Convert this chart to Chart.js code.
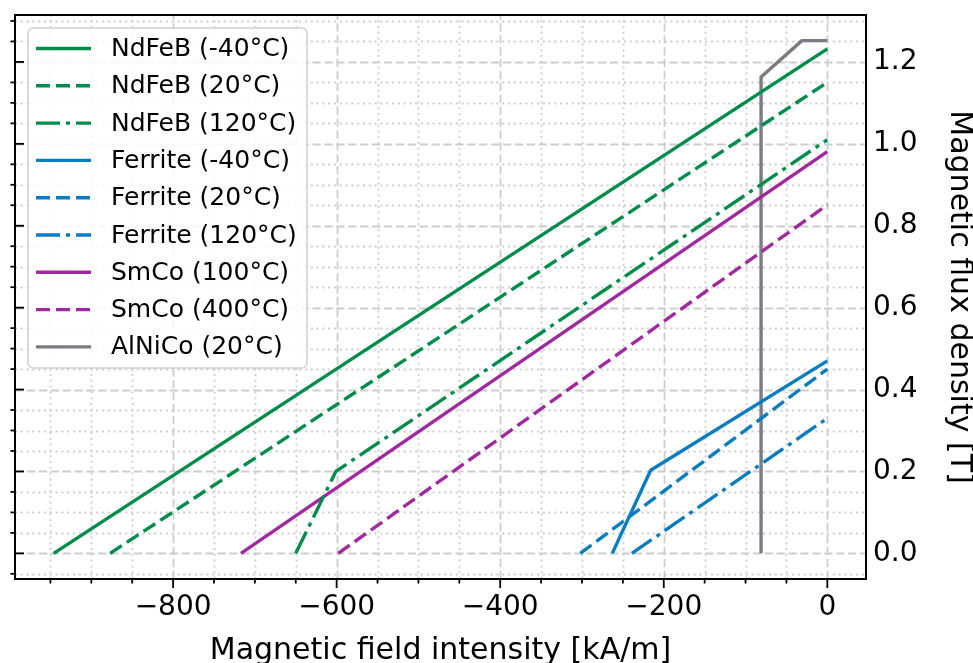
<!DOCTYPE html>
<html>
<head>
<meta charset="utf-8">
<script src="https://cdn.jsdelivr.net/npm/chart.js@4.4.1/dist/chart.umd.min.js"></script>
<style>
  html, body { margin: 0; padding: 0; background: #ffffff; }
  #wrap { width: 973px; height: 663px; position: relative; }
  canvas { display: block; }
</style>
</head>
<body>
<div id="wrap"><canvas id="c" width="973" height="663"></canvas></div>
<script>
// ---------------- data ----------------
const seriesLabels = [
  'NdFeB (-40°C)', 'NdFeB (20°C)', 'NdFeB (120°C)',
  'Ferrite (-40°C)', 'Ferrite (20°C)', 'Ferrite (120°C)',
  'SmCo (100°C)', 'SmCo (400°C)', 'AlNiCo (20°C)'
];
// H values in kA/m, B values in T
const ndfebM40H = [-946, 0];
const ndfebM40B = [0, 1.232];
const ndfeb20H = [-877, 0];
const ndfeb20B = [0, 1.15];
const ndfeb120H = [-650, -601, 0];
const ndfeb120B = [0, 0.2, 1.01];
const ferriteM40H = [-263, -216, 0];
const ferriteM40B = [0, 0.203, 0.47];
const ferrite20H = [-302, 0];
const ferrite20B = [0, 0.45];
const ferrite120H = [-239, 0];
const ferrite120B = [0, 0.33];
const smco100H = [-717, 0];
const smco100B = [0, 0.981];
const smco400H = [-598, 0];
const smco400B = [0, 0.851];
const alnico20H = [-81, -81, -31, 0];
const alnico20B = [0, 1.163, 1.252, 1.252];

// tick labels / tick positions
const xTickLabels = [-800, -600, -400, -200, 0];
const yTickLabels = [0.0, 0.2, 0.4, 0.6, 0.8, 1.0, 1.2];
const xMinorTicks = [-950, -900, -850, -800, -750, -700, -650, -600, -550, -500, -450, -400,
                     -350, -300, -250, -200, -150, -100, -50, 0];
const yMinorTicks = [-0.05, 0.0, 0.05, 0.1, 0.15, 0.2, 0.25, 0.3, 0.35, 0.4, 0.45, 0.5, 0.55, 0.6,
                     0.65, 0.7, 0.75, 0.8, 0.85, 0.9, 0.95, 1.0, 1.05, 1.1, 1.15, 1.2, 1.25, 1.3];

// ---------------- styles ----------------
const FONT = "'DejaVu Sans', 'Noto Sans', sans-serif";
const GREEN = '#008c4b', BLUE = '#0a7cc1', PURPLE = '#a0299f', GREY = '#7b7c83';
const SOLID = [], DASHED = [14, 6], DASHDOT = [24, 6, 4, 6];
const LW = 3.4;

function pts(hs, bs) { return hs.map((h, i) => ({ x: h, y: bs[i] })); }
function ds(i, hs, bs, color, dash) {
  return {
    label: seriesLabels[i], data: pts(hs, bs),
    borderColor: color, backgroundColor: color, borderWidth: LW,
    borderDash: dash, borderCapStyle: 'butt', borderJoinStyle: 'round',
    pointRadius: 0, pointHoverRadius: 0, fill: false, tension: 0
  };
}
const datasets = [
  ds(0, ndfebM40H, ndfebM40B, GREEN, SOLID),
  ds(1, ndfeb20H, ndfeb20B, GREEN, DASHED),
  ds(2, ndfeb120H, ndfeb120B, GREEN, DASHDOT),
  ds(3, ferriteM40H, ferriteM40B, BLUE, SOLID),
  ds(4, ferrite20H, ferrite20B, BLUE, DASHED),
  ds(5, ferrite120H, ferrite120B, BLUE, DASHDOT),
  ds(6, smco100H, smco100B, PURPLE, SOLID),
  ds(7, smco400H, smco400B, PURPLE, DASHED),
  ds(8, alnico20H, alnico20B, GREY, SOLID)
];

function isMultiple(v, step) { const r = v / step; return Math.abs(r - Math.round(r)) < 1e-6; }

// ---------------- decoration plugin ----------------
const decor = {
  id: 'decor',
  beforeDatasetsDraw(chart) {
    const { ctx, chartArea: a, scales: { x, y } } = chart;
    ctx.save();
    ctx.beginPath();
    ctx.rect(a.left, a.top, a.right - a.left, a.bottom - a.top);
    ctx.clip();
    ctx.lineCap = 'butt';
    // minor dotted grid
    ctx.strokeStyle = '#cdcdcd';
    ctx.lineWidth = 1.8;
    ctx.setLineDash([2, 3.8]);
    xMinorTicks.filter(v => !isMultiple(v, 200)).forEach(v => {
      const p = Math.round(x.getPixelForValue(v)) + 0.5;
      ctx.beginPath(); ctx.moveTo(p, a.bottom); ctx.lineTo(p, a.top); ctx.stroke();
    });
    yMinorTicks.filter(v => !isMultiple(v, 0.2)).forEach(v => {
      const p = Math.round(y.getPixelForValue(v)) + 0.5;
      ctx.beginPath(); ctx.moveTo(a.left, p); ctx.lineTo(a.right, p); ctx.stroke();
    });
    // major dashed grid
    ctx.strokeStyle = '#cdcdcd';
    ctx.lineWidth = 1.8;
    ctx.setLineDash([8.3, 3.6]);
    xTickLabels.forEach(v => {
      const p = Math.round(x.getPixelForValue(v)) + 0.5;
      ctx.beginPath(); ctx.moveTo(p, a.bottom); ctx.lineTo(p, a.top); ctx.stroke();
    });
    yTickLabels.forEach(v => {
      const p = Math.round(y.getPixelForValue(v)) + 0.5;
      ctx.beginPath(); ctx.moveTo(a.left, p); ctx.lineTo(a.right, p); ctx.stroke();
    });
    ctx.restore();
  },
  afterDatasetsDraw(chart) {
    const { ctx, chartArea: a, scales: { x, y } } = chart;
    ctx.save();
    ctx.setLineDash([]);
    ctx.strokeStyle = '#000';
    ctx.lineCap = 'butt';
    // bottom ticks (outward)
    ctx.lineWidth = 1.8;
    xMinorTicks.forEach(v => {
      const p = x.getPixelForValue(v);
      const len = isMultiple(v, 200) ? 9 : 4.5;
      ctx.beginPath(); ctx.moveTo(p, a.bottom); ctx.lineTo(p, a.bottom + len); ctx.stroke();
    });
    // left ticks: major inward, minor outward
    yMinorTicks.forEach(v => {
      const p = y.getPixelForValue(v);
      ctx.beginPath();
      if (isMultiple(v, 0.2)) { ctx.moveTo(a.left, p); ctx.lineTo(a.left + 9, p); }
      else { ctx.moveTo(a.left, p); ctx.lineTo(a.left - 4.5, p); }
      ctx.stroke();
    });
    // spines
    ctx.lineWidth = 2;
    ctx.strokeRect(a.left, a.top, a.right - a.left, a.bottom - a.top);
    ctx.restore();
  },
  afterDraw(chart) {
    const { ctx, chartArea: a } = chart;
    const bx = a.left + 13, by = a.top + 13, bw = 279, bh = 340;
    ctx.save();
    ctx.beginPath();
    ctx.roundRect(bx, by, bw, bh, 5);
    ctx.fillStyle = 'rgba(255,255,255,0.85)';
    ctx.fill();
    ctx.lineWidth = 1.5;
    ctx.strokeStyle = '#d0d0d0';
    ctx.stroke();
    ctx.font = '25px ' + FONT;
    ctx.textBaseline = 'middle';
    ctx.textAlign = 'left';
    chart.data.datasets.forEach((d, i) => {
      const ly = by + 20.5 + i * 37.3;
      ctx.beginPath();
      ctx.setLineDash(d.borderDash);
      ctx.lineDashOffset = 0;
      ctx.strokeStyle = d.borderColor;
      ctx.lineWidth = LW;
      ctx.lineCap = 'butt';
      ctx.moveTo(bx + 8, ly);
      ctx.lineTo(bx + 63, ly);
      ctx.stroke();
      ctx.setLineDash([]);
      ctx.fillStyle = '#000';
      ctx.fillText(d.label, bx + 83, ly + 1);
    });
    ctx.restore();
  }
};

const fmtX = v => (v < 0 ? '\u2212' + Math.abs(v) : String(v));

new Chart(document.getElementById('c'), {
  type: 'line',
  data: { datasets },
  plugins: [decor],
  options: {
    responsive: false,
    animation: false,
    devicePixelRatio: 1,
    parsing: true,
    layout: { padding: { left: 15, top: 15, right: 0, bottom: 0 } },
    plugins: { legend: { display: false }, tooltip: { enabled: false } },
    scales: {
      x: {
        type: 'linear', position: 'bottom',
        min: -993.3, max: 47.3,
        grid: { display: false, drawTicks: false },
        border: { display: false },
        afterBuildTicks: s => { s.ticks = xTickLabels.map(v => ({ value: v })); },
        afterFit: s => { s.height = 84; s.paddingLeft = 0; s.paddingRight = 0; },
        ticks: {
          color: '#000', padding: 12, maxRotation: 0, autoSkip: false,
          font: { family: FONT, size: 28 },
          callback: v => fmtX(v)
        },
        title: {
          display: true, text: 'Magnetic field intensity [kA/m]', color: '#000',
          font: { family: FONT, size: 30, lineHeight: 0.8 },
          padding: { top: 0, bottom: 0 }
        }
      },
      y: {
        type: 'linear', position: 'right',
        min: -0.0626, max: 1.3146,
        grid: { display: false, drawTicks: false },
        border: { display: false },
        afterBuildTicks: s => { s.ticks = yTickLabels.map(v => ({ value: v })); },
        afterFit: s => { s.width = 107; s.paddingTop = 0; s.paddingBottom = 0; },
        ticks: {
          color: '#000', padding: 7, autoSkip: false,
          font: { family: FONT, size: 28 },
          callback: v => Number(v).toFixed(1)
        },
        title: {
          display: true, text: 'Magnetic flux density [T]', color: '#000',
          font: { family: FONT, size: 30, lineHeight: 0.8 },
          padding: { top: 2, bottom: 0 }
        }
      }
    }
  }
});
</script>
</body>
</html>
